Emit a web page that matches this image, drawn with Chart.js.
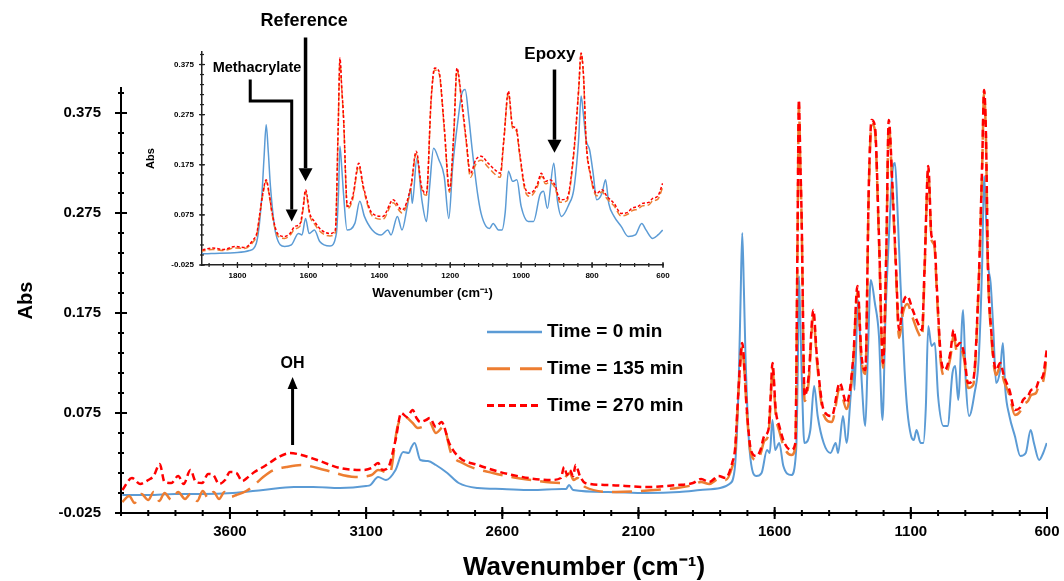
<!DOCTYPE html>
<html>
<head>
<meta charset="utf-8">
<script src="https://cdn.jsdelivr.net/npm/chart.js@4.4.1/dist/chart.umd.min.js"></script>
<style>
  html, body { margin: 0; padding: 0; background: #fff; }
  #wrap { position: relative; width: 1064px; height: 581px; }
  #main { position: absolute; left: 0; top: 0; }
  #inset { position: absolute; left: 130px; top: 0; }
</style>
</head>
<body>
<div id="wrap">
  <canvas id="main" width="1064" height="581"></canvas>
  <canvas id="inset" width="550" height="320"></canvas>
</div>
<script>
const FONT = '"Liberation Sans", Arial, sans-serif';

// tick labels
const xTicksMain = [600, 1100, 1600, 2100, 2600, 3100, 3600];
const xTicksInset = [600, 800, 1000, 1200, 1400, 1600, 1800];
const yTicks = [-0.025, 0.075, 0.175, 0.275, 0.375];

const seriesLabels = ['Time = 0 min', 'Time = 135 min', 'Time = 270 min'];

// Time = 0 min
const wn0 = [3995, 3900, 3800, 3700, 3590, 3478, 3365, 3295, 3196, 3100, 3084, 3056, 3027, 2992, 2964, 2943, 2935, 2922, 2901, 2873, 2844, 2802, 2760, 2690, 2600, 2493, 2380, 2366, 2355, 2340, 2212, 2071, 1950, 1874, 1800, 1766, 1747, 1732, 1725, 1719, 1713, 1707, 1692, 1667, 1648, 1628, 1618, 1608, 1598, 1583, 1568, 1539, 1521, 1515, 1511, 1506, 1501, 1491, 1469, 1455, 1442, 1420, 1395, 1376, 1367, 1349, 1336, 1321, 1311, 1307, 1294, 1280, 1267, 1258, 1247, 1232, 1217, 1204, 1193, 1178, 1168, 1158, 1148, 1138, 1123, 1113, 1099, 1089, 1079, 1064, 1054, 1045, 1036, 1024, 1012, 1000, 980, 965, 947, 937, 926, 908, 898, 886, 866, 851, 838, 831, 824, 817, 807, 797, 787, 772, 762, 753, 738, 718, 698, 678, 660, 648, 629, 614, 601];
const abs0 = [-0.007, -0.007, -0.006, -0.006, -0.005, -0.002, 0.001, 0.001, 0.000, 0.002, 0.003, 0.011, 0.008, 0.018, 0.036, 0.035, 0.040, 0.045, 0.028, 0.027, 0.023, 0.015, 0.005, 0.000, -0.001, -0.002, -0.001, -0.001, 0.003, -0.002, -0.004, -0.005, -0.004, -0.002, 0.000, 0.004, 0.018, 0.105, 0.190, 0.255, 0.200, 0.132, 0.038, 0.012, 0.015, 0.038, 0.035, 0.068, 0.038, 0.045, 0.022, 0.013, 0.038, 0.120, 0.212, 0.170, 0.118, 0.045, 0.058, 0.102, 0.072, 0.045, 0.035, 0.045, 0.035, 0.072, 0.045, 0.092, 0.128, 0.098, 0.188, 0.105, 0.062, 0.132, 0.208, 0.185, 0.152, 0.068, 0.172, 0.265, 0.315, 0.325, 0.272, 0.205, 0.118, 0.078, 0.052, 0.048, 0.058, 0.045, 0.045, 0.080, 0.162, 0.142, 0.145, 0.092, 0.062, 0.062, 0.115, 0.122, 0.088, 0.178, 0.105, 0.072, 0.095, 0.128, 0.225, 0.312, 0.272, 0.225, 0.205, 0.158, 0.105, 0.118, 0.145, 0.098, 0.072, 0.052, 0.032, 0.035, 0.058, 0.045, 0.028, 0.035, 0.045];

// Time = 135 min
const wn135 = [3995, 3970, 3950, 3925, 3900, 3880, 3860, 3840, 3815, 3790, 3765, 3745, 3720, 3700, 3680, 3660, 3640, 3620, 3600, 3576, 3540, 3510, 3478, 3440, 3393, 3337, 3252, 3140, 3080, 3056, 3013, 2985, 2957, 2929, 2910, 2894, 2866, 2844, 2816, 2788, 2746, 2634, 2493, 2380, 2365, 2352, 2338, 2324, 2296, 2183, 2042, 1958, 1900, 1870, 1840, 1806, 1780, 1756, 1745, 1737, 1728, 1719, 1710, 1702, 1687, 1667, 1652, 1638, 1623, 1615, 1608, 1596, 1583, 1564, 1539, 1524, 1516, 1511, 1506, 1501, 1490, 1475, 1458, 1445, 1420, 1390, 1361, 1336, 1311, 1296, 1281, 1267, 1254, 1244, 1232, 1217, 1202, 1190, 1181, 1168, 1155, 1143, 1128, 1113, 1093, 1074, 1059, 1049, 1036, 1024, 1014, 1004, 990, 975, 955, 943, 931, 920, 905, 890, 871, 851, 838, 831, 824, 817, 805, 787, 772, 758, 738, 718, 700, 688, 670, 658, 640, 629, 615, 601];
const abs135 = [-0.014, -0.008, -0.015, -0.006, -0.012, -0.004, -0.013, -0.005, -0.012, -0.004, -0.011, -0.006, -0.013, -0.003, -0.010, -0.004, -0.011, -0.004, -0.009, -0.007, -0.003, 0.003, 0.011, 0.018, 0.021, 0.023, 0.018, 0.011, 0.013, 0.018, 0.015, 0.061, 0.071, 0.065, 0.060, 0.061, 0.065, 0.055, 0.061, 0.035, 0.025, 0.015, 0.008, 0.005, 0.012, 0.015, 0.008, 0.010, 0.001, -0.004, -0.002, 0.000, 0.003, 0.006, 0.004, 0.009, 0.008, 0.021, 0.036, 0.074, 0.117, 0.142, 0.112, 0.075, 0.034, 0.028, 0.034, 0.047, 0.053, 0.085, 0.120, 0.073, 0.057, 0.040, 0.033, 0.040, 0.245, 0.384, 0.326, 0.268, 0.087, 0.106, 0.172, 0.127, 0.073, 0.066, 0.099, 0.079, 0.127, 0.197, 0.128, 0.114, 0.300, 0.364, 0.358, 0.247, 0.120, 0.233, 0.364, 0.300, 0.220, 0.150, 0.176, 0.184, 0.170, 0.156, 0.150, 0.220, 0.318, 0.248, 0.243, 0.193, 0.126, 0.112, 0.130, 0.152, 0.137, 0.140, 0.130, 0.100, 0.103, 0.200, 0.321, 0.395, 0.348, 0.222, 0.154, 0.113, 0.121, 0.107, 0.093, 0.073, 0.076, 0.083, 0.087, 0.093, 0.095, 0.103, 0.106, 0.130];

// Time = 270 min
const wn270 = [3995, 3960, 3930, 3900, 3880, 3858, 3840, 3815, 3790, 3770, 3745, 3725, 3702, 3680, 3661, 3640, 3618, 3600, 3576, 3555, 3533, 3510, 3478, 3450, 3421, 3379, 3337, 3280, 3196, 3112, 3080, 3056, 3040, 3020, 2992, 2971, 2950, 2929, 2915, 2901, 2880, 2866, 2844, 2823, 2795, 2760, 2690, 2563, 2423, 2385, 2373, 2362, 2352, 2340, 2331, 2315, 2296, 2212, 2071, 1958, 1900, 1870, 1840, 1806, 1780, 1756, 1745, 1737, 1728, 1719, 1710, 1702, 1687, 1667, 1652, 1638, 1623, 1615, 1608, 1596, 1583, 1564, 1539, 1524, 1516, 1511, 1506, 1501, 1490, 1475, 1458, 1445, 1420, 1390, 1361, 1336, 1311, 1296, 1281, 1267, 1254, 1244, 1232, 1217, 1202, 1190, 1181, 1168, 1155, 1143, 1128, 1113, 1093, 1074, 1059, 1049, 1036, 1024, 1014, 1004, 990, 975, 955, 943, 931, 920, 905, 890, 871, 851, 838, 831, 824, 817, 805, 787, 772, 758, 738, 718, 700, 688, 670, 658, 640, 629, 615, 601];
const abs270 = [-0.002, 0.010, 0.004, 0.008, 0.012, 0.024, 0.006, 0.005, 0.012, 0.004, 0.018, 0.006, 0.005, 0.014, 0.013, 0.004, 0.008, 0.016, 0.015, 0.007, 0.011, 0.016, 0.021, 0.026, 0.031, 0.035, 0.033, 0.028, 0.020, 0.018, 0.020, 0.025, 0.018, 0.020, 0.048, 0.075, 0.071, 0.078, 0.070, 0.066, 0.068, 0.070, 0.061, 0.066, 0.045, 0.031, 0.023, 0.013, 0.008, 0.010, 0.021, 0.013, 0.018, 0.012, 0.023, 0.012, 0.005, 0.003, 0.001, 0.003, 0.005, 0.009, 0.006, 0.012, 0.010, 0.025, 0.040, 0.078, 0.120, 0.145, 0.115, 0.078, 0.038, 0.032, 0.038, 0.052, 0.058, 0.090, 0.125, 0.078, 0.062, 0.045, 0.038, 0.045, 0.250, 0.388, 0.330, 0.272, 0.092, 0.112, 0.178, 0.132, 0.078, 0.072, 0.105, 0.085, 0.132, 0.202, 0.132, 0.118, 0.305, 0.368, 0.362, 0.252, 0.125, 0.238, 0.368, 0.305, 0.225, 0.158, 0.185, 0.192, 0.178, 0.165, 0.158, 0.225, 0.322, 0.252, 0.248, 0.198, 0.132, 0.118, 0.135, 0.158, 0.142, 0.145, 0.135, 0.105, 0.108, 0.205, 0.325, 0.398, 0.352, 0.225, 0.158, 0.118, 0.125, 0.112, 0.098, 0.078, 0.080, 0.088, 0.092, 0.098, 0.100, 0.108, 0.112, 0.138];

const colors = ['#5b9bd5', '#ed7d31', '#ff0000'];

function toPoints(wn, ab) {
  return wn.map((w, i) => ({ x: w, y: ab[i] }));
}

function makeDatasets(thin) {
  return [
    { label: seriesLabels[0], data: toPoints(wn0, abs0), borderColor: colors[0],
      borderWidth: thin ? 1.5 : 2, borderDash: [], order: 3 },
    { label: seriesLabels[1], data: toPoints(wn135, abs135), borderColor: colors[1],
      borderWidth: thin ? 1.5 : 2.5, borderDash: thin ? [6, 3] : [20, 9], order: 2 },
    { label: seriesLabels[2], data: toPoints(wn270, abs270), borderColor: colors[2],
      borderWidth: thin ? 1.5 : 2.5, borderDash: thin ? [3, 2] : [7, 4], order: 1 },
  ].map((d) => Object.assign(d, { pointRadius: 0, fill: false, cubicInterpolationMode: 'monotone' }));
}

// crossing tick marks on both axes (major + minor)
const axisTicks = {
  id: 'axisTicks',
  afterDatasetsDraw(chart, args, o) {
    const { ctx, chartArea: a, scales: { x, y } } = chart;
    ctx.save();
    ctx.strokeStyle = o.color;
    ctx.lineWidth = o.lineWidth;
    const mark = (scale, v, len) => {
      const p = scale.getPixelForValue(v);
      ctx.beginPath();
      if (scale.isHorizontal()) {
        ctx.moveTo(p, a.bottom - len);
        ctx.lineTo(p, a.bottom + len);
      } else {
        ctx.moveTo(a.left - len, p);
        ctx.lineTo(a.left + len, p);
      }
      ctx.stroke();
    };
    for (let v = x.min; v <= x.max + 1e-6; v += o.xMinor) mark(x, v, o.minor);
    for (let v = y.min; v <= y.max + 1e-6; v += o.yMinor) mark(y, v, o.minor);
    x.ticks.forEach((t) => mark(x, t.value, o.major));
    y.ticks.forEach((t) => mark(y, t.value, o.major));
    ctx.restore();
  },
};

// text labels and arrows placed in data coordinates
const callouts = {
  id: 'callouts',
  afterDraw(chart, args, o) {
    const { ctx, scales: { x, y } } = chart;
    const px = (p) => [x.getPixelForValue(p[0]), y.getPixelForValue(p[1])];
    ctx.save();
    ctx.fillStyle = '#000';
    ctx.strokeStyle = '#000';
    (o.items || []).forEach((it) => {
      if (it.text) {
        const [tx, ty] = px(it.at);
        ctx.font = `bold ${it.size}px ${FONT}`;
        ctx.textAlign = 'center';
        ctx.textBaseline = 'middle';
        ctx.fillText(it.text, tx, ty);
      }
      if (it.path) {
        const pts = it.path.map(px);
        const [ex, ey] = pts[pts.length - 1];
        const [sx, sy] = pts[pts.length - 2];
        const len = Math.hypot(ex - sx, ey - sy);
        const ux = (ex - sx) / len, uy = (ey - sy) / len;
        const bx = ex - ux * it.head, by = ey - uy * it.head;
        ctx.lineWidth = it.width;
        ctx.lineJoin = 'miter';
        ctx.beginPath();
        ctx.moveTo(pts[0][0], pts[0][1]);
        for (let i = 1; i < pts.length - 1; i++) ctx.lineTo(pts[i][0], pts[i][1]);
        ctx.lineTo(bx, by);
        ctx.stroke();
        ctx.beginPath();
        ctx.moveTo(ex, ey);
        ctx.lineTo(bx - uy * it.headW / 2, by + ux * it.headW / 2);
        ctx.lineTo(bx + uy * it.headW / 2, by - ux * it.headW / 2);
        ctx.closePath();
        ctx.fill();
      }
    });
    ctx.restore();
  },
};

// legend drawn inside the plot, samples taken from the datasets
const sideLegend = {
  id: 'sideLegend',
  afterDraw(chart, args, o) {
    if (!o.show) return;
    const { ctx } = chart;
    ctx.save();
    ctx.font = `bold ${o.size}px ${FONT}`;
    ctx.textBaseline = 'middle';
    ctx.textAlign = 'left';
    ctx.fillStyle = '#000';
    chart.data.datasets.forEach((d, i) => {
      const yy = o.y + i * o.gap;
      ctx.strokeStyle = d.borderColor;
      ctx.lineWidth = d.borderWidth + 0.5;
      ctx.setLineDash(o.dashes[i]);
      ctx.beginPath();
      ctx.moveTo(o.x, yy);
      ctx.lineTo(o.x + o.len, yy);
      ctx.stroke();
      ctx.setLineDash([]);
      ctx.fillText(d.label, o.x + o.len + o.pad, yy);
    });
    ctx.restore();
  },
};

function makeOptions(cfg) {
  return {
    responsive: false,
    animation: false,
    events: [],
    layout: { padding: cfg.padding },
    scales: {
      x: {
        type: 'linear', reverse: true, min: cfg.xMin, max: cfg.xMax,
        afterBuildTicks: (s) => { s.ticks = cfg.xTicks.map((v) => ({ value: v })); },
        afterFit: (s) => { s.height = cfg.xHeight; },
        grid: { display: false, drawTicks: false },
        border: { display: true, color: cfg.axisColor, width: cfg.axisWidth },
        ticks: { autoSkip: false, maxRotation: 0, padding: cfg.xPad, color: '#000',
                 font: { family: FONT, size: cfg.tickSize, weight: 'bold' },
                 callback: (v) => String(v) },
        title: { display: true, text: 'Wavenumber (cm⁻¹)', color: '#000',
                 font: { family: FONT, size: cfg.xTitleSize, weight: 'bold', lineHeight: 1 },
                 padding: { top: 0, bottom: cfg.xTitlePad } },
      },
      y: {
        type: 'linear', min: -0.025, max: 0.4,
        afterBuildTicks: (s) => { s.ticks = yTicks.map((v) => ({ value: v })); },
        afterFit: (s) => { s.width = cfg.yWidth; },
        grid: { display: false, drawTicks: false },
        border: { display: true, color: cfg.axisColor, width: cfg.axisWidth },
        ticks: { autoSkip: false, padding: cfg.yPad, color: '#000',
                 font: { family: FONT, size: cfg.tickSize, weight: 'bold' },
                 callback: (v) => Number(v).toFixed(3) },
        title: { display: true, text: 'Abs', color: '#000',
                 font: { family: FONT, size: cfg.yTitleSize, weight: 'bold', lineHeight: 1 },
                 padding: { top: cfg.yTitlePad, bottom: 0 } },
      },
    },
    plugins: {
      legend: { display: false },
      tooltip: { enabled: false },
      axisTicks: cfg.ticks,
      callouts: { items: cfg.callouts },
      sideLegend: cfg.legend,
    },
  };
}

new Chart(document.getElementById('main'), {
  type: 'line',
  data: { datasets: makeDatasets(false) },
  options: makeOptions({
    padding: { top: 88, right: 17, left: 0, bottom: 0 },
    xMin: 600, xMax: 4000, xTicks: xTicksMain,
    xHeight: 68, yWidth: 121, xPad: 10, yPad: 20,
    axisColor: '#000', axisWidth: 2, tickSize: 15,
    xTitleSize: 26, xTitlePad: 0, yTitleSize: 20, yTitlePad: 16,
    ticks: { color: '#000', lineWidth: 2, xMinor: 100, yMinor: 0.02, minor: 3, major: 6 },
    callouts: [
      { text: 'OH', at: [3370, 0.124], size: 16 },
      { path: [[3370, 0.043], [3370, 0.111]], width: 3, head: 12, headW: 10 },
    ],
    legend: { show: true, x: 487, y: 332, gap: 36.7, len: 55, pad: 5, size: 19,
              dashes: [[], [23, 10], [7, 4]] },
  }),
  plugins: [axisTicks, callouts, sideLegend],
});

new Chart(document.getElementById('inset'), {
  type: 'line',
  data: { datasets: makeDatasets(true) },
  options: makeOptions({
    padding: { top: 52, right: 17, left: 0, bottom: 0 },
    xMin: 600, xMax: 1900, xTicks: xTicksInset,
    xHeight: 55, yWidth: 72, xPad: 6, yPad: 8,
    axisColor: '#222', axisWidth: 1.5, tickSize: 8,
    xTitleSize: 13, xTitlePad: 20, yTitleSize: 11, yTitlePad: 15,
    ticks: { color: '#222', lineWidth: 1.2, xMinor: 40, yMinor: 0.02, minor: 2, major: 3 },
    callouts: [
      { text: 'Reference', at: [1612, 0.461], size: 18 },
      { path: [[1608, 0.429], [1608, 0.142]], width: 3.5, head: 13, headW: 14 },
      { text: 'Methacrylate', at: [1745, 0.369], size: 14.5 },
      { path: [[1764, 0.345], [1764, 0.302], [1647, 0.302], [1647, 0.062]], width: 3, head: 12, headW: 12 },
      { text: 'Epoxy', at: [919, 0.395], size: 17 },
      { path: [[906, 0.365], [906, 0.199]], width: 3.5, head: 13, headW: 14 },
    ],
    legend: { show: false },
  }),
  plugins: [axisTicks, callouts, sideLegend],
});
</script>
</body>
</html>
